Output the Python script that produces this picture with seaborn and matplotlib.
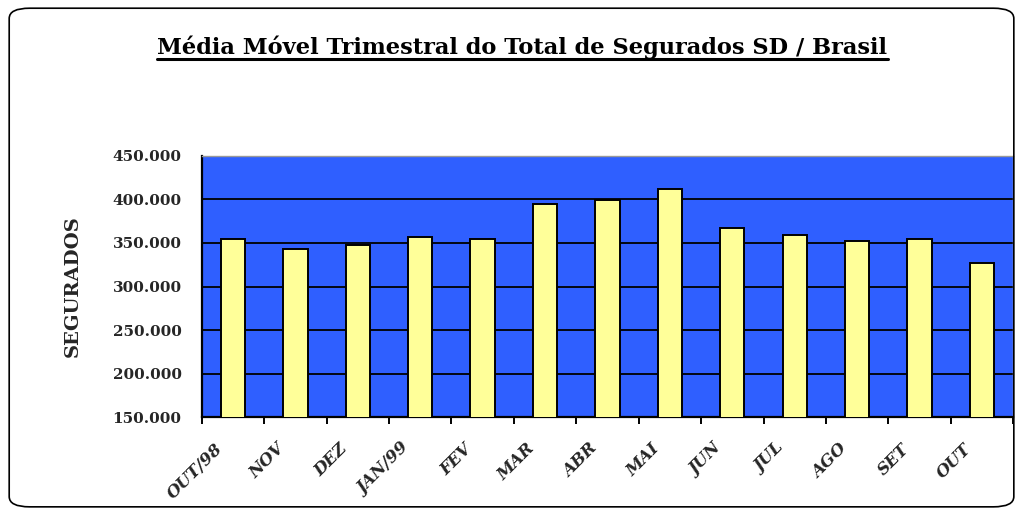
import matplotlib
matplotlib.use("Agg")
import matplotlib.pyplot as plt
import seaborn as sns
import pandas as pd
from matplotlib.patches import FancyBboxPatch
from matplotlib.lines import Line2D
from matplotlib.ticker import FuncFormatter, FixedLocator
from matplotlib.transforms import ScaledTranslation

months = ["OUT/98", "NOV", "DEZ", "JAN/99", "FEV", "MAR", "ABR", "MAI",
          "JUN", "JUL", "AGO", "SET", "OUT"]
segurados = [354600, 343600, 347400, 356900, 354600, 395300, 399100, 412500,
             367700, 358900, 352800, 354600, 327500]
yticks = [150000, 200000, 250000, 300000, 350000, 400000, 450000]
title = "Média Móvel Trimestral do Total de Segurados SD / Brasil"
ylabel = "SEGURADOS"

df = pd.DataFrame({"mes": months, "valor": segurados})

sns.set_theme(style="white")
plt.rcParams["font.family"] = ["DejaVu Serif"]

fig = plt.figure(figsize=(10.22, 5.13), dpi=100)
ax = fig.add_axes([0.1974, 0.187, 0.794, 0.509])

sns.barplot(data=df, x="mes", y="valor", color="#FFFF99", edgecolor="black",
            linewidth=1.4, width=0.39, saturation=1, ax=ax, zorder=3)

ax.set_facecolor("#2F5FFF")
ax.set_ylim(150000, 450000)
ax.set_xlim(-0.5, len(months) - 0.5)
ax.yaxis.set_major_locator(FixedLocator(yticks))
ax.yaxis.set_major_formatter(FuncFormatter(lambda v, p: f"{int(v):,}".replace(",", ".")))
ax.grid(axis="y", color="black", linewidth=1.3, zorder=1)
ax.set_axisbelow(True)

for s in ["left", "bottom"]:
    ax.spines[s].set_color("black")
    ax.spines[s].set_linewidth(1.6)
for s in ["top", "right"]:
    ax.spines[s].set_color("#999999")
    ax.spines[s].set_linewidth(1.0)

ax.tick_params(axis="y", which="major", direction="out", length=5, width=1.4,
               color="black", labelsize=11, pad=9.5)
for lab in ax.get_yticklabels():
    lab.set_fontweight("bold")

ax.set_xticks(range(len(months)))
ax.set_xticks([i - 0.5 for i in range(len(months) + 1)], minor=True)
ax.tick_params(axis="x", which="major", length=0, pad=21)
ax.tick_params(axis="x", which="minor", direction="out", length=5, width=1.4,
               color="black", bottom=True)
ax.set_xticklabels(months, rotation=45, ha="right", va="center",
                   rotation_mode="anchor", fontsize=12, fontweight="bold",
                   fontstyle="italic")
shift = ScaledTranslation(-13 / 100, 0, fig.dpi_scale_trans)
for lab in ax.get_xticklabels():
    lab.set_transform(lab.get_transform() + shift)
ax.set_xlabel("")
ax.set_ylabel(ylabel, fontsize=14, fontweight="bold", labelpad=22)

fig.text(0.511, 0.894, title, ha="center", va="baseline", fontsize=16.2,
         fontweight="bold", color="black")
fig.add_artist(Line2D([0.154, 0.869], [0.8855, 0.8855], color="black",
                      linewidth=2.2, transform=fig.transFigure))

frame = FancyBboxPatch((0.009, 0.012), 0.983, 0.972,
                       boxstyle="round,pad=0,rounding_size=0.02",
                       transform=fig.transFigure, fill=False,
                       edgecolor="black", linewidth=1.2)
fig.add_artist(frame)

fig.savefig("out.png", dpi=100, facecolor="white")
